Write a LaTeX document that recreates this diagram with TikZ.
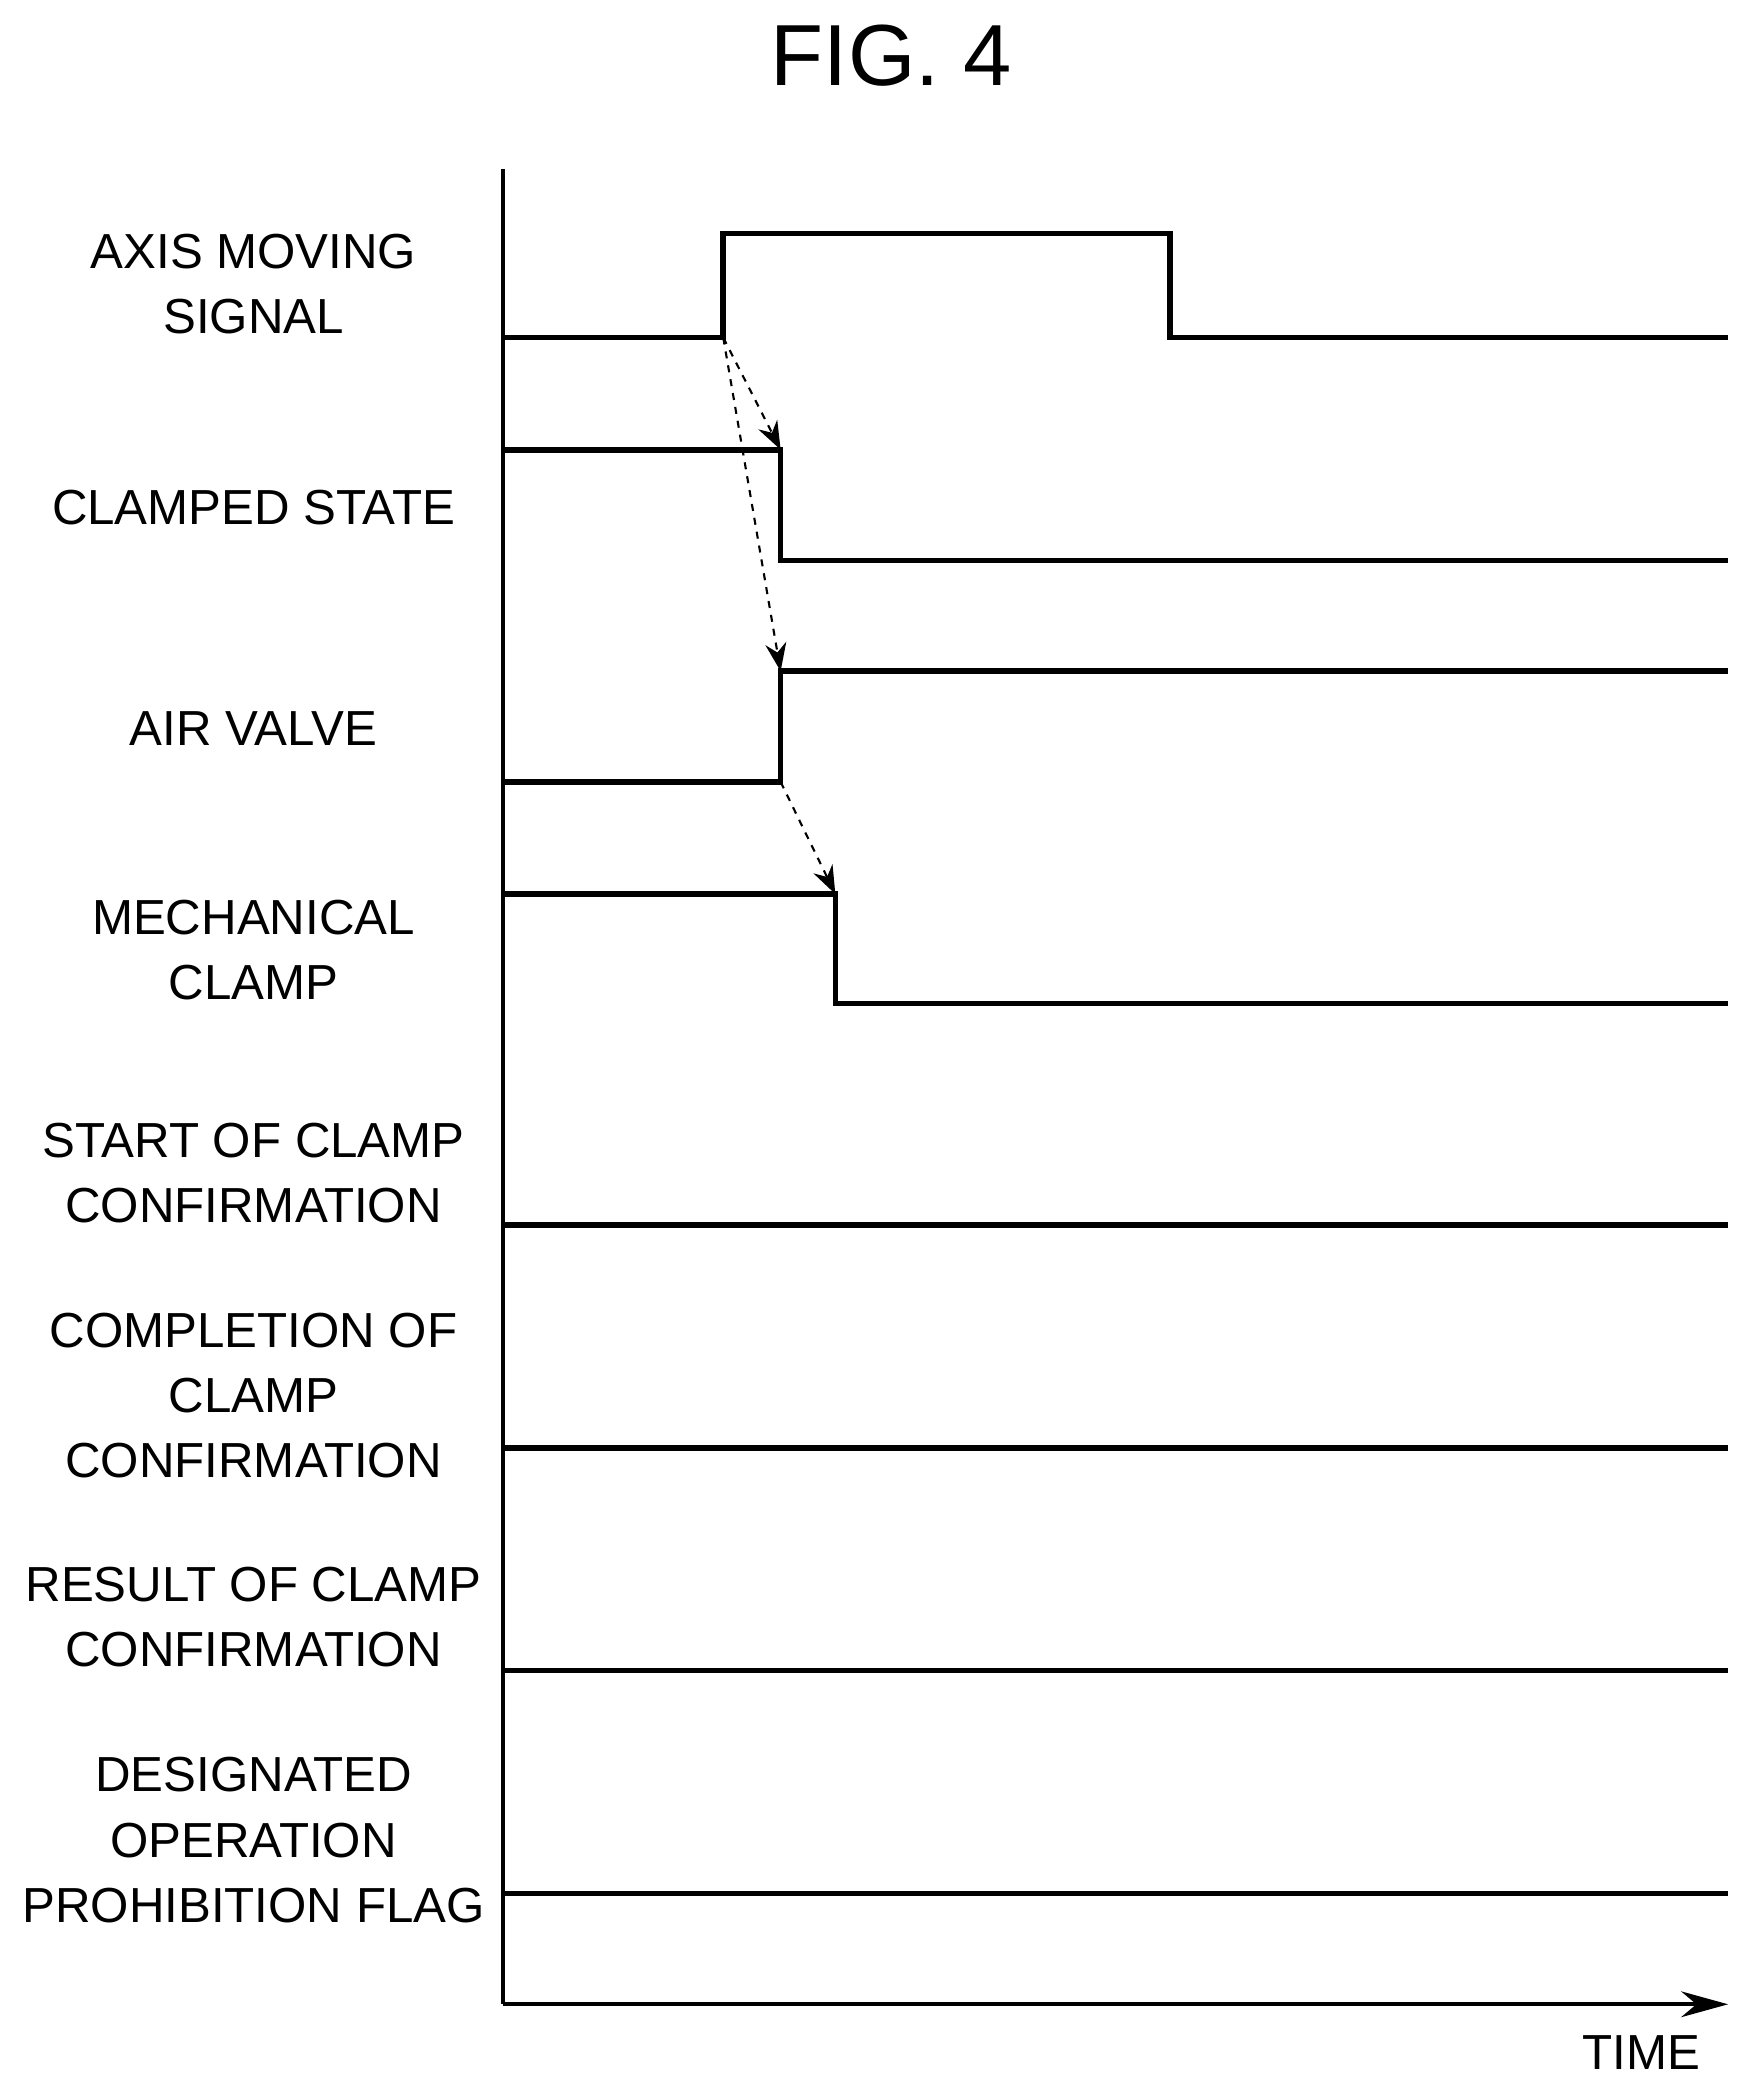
\documentclass[tikz,border=0pt]{standalone}
\usepackage{fontspec}
\setmainfont{Liberation Sans}
\usetikzlibrary{arrows.meta}
\begin{document}
\begin{tikzpicture}[x=0.02cm,y=-0.02cm,
  sig/.style={line width=2.4pt},
  ax/.style={line width=1.6pt},
  dep/.style={dashed,line width=0.9pt,-{Stealth[length=12pt,width=9pt]}},
  lab/.style={align=center,font=\fontsize{21}{27.8}\selectfont,inner sep=0pt}]
\useasboundingbox (0,0) rectangle (1310,1567);
\node[font=\fontsize{37}{40}\selectfont] (title) at (668,42) {FIG. 4};
\coordinate (o) at (377,1502);
\coordinate (top) at (377,127);
\coordinate (xe) at (1295,1502);
\draw[ax] (top) -- (o);
\draw[ax,-{Stealth[length=20pt,width=11pt]}] (o) -- (xe);
\node[font=\fontsize{21}{24}\selectfont] (time) at (1230,1538) {TIME};
% labels
\node[lab] (l1) at (190,213) {AXIS MOVING\\SIGNAL};
\node[lab] (l2) at (190,380) {CLAMPED STATE};
\node[lab] (l3) at (190,546) {AIR VALVE};
\node[lab] (l4) at (190,712) {MECHANICAL\\CLAMP};
\node[lab] (l5) at (190,879) {START OF CLAMP\\CONFIRMATION};
\node[lab] (l6) at (190,1046) {COMPLETION OF\\CLAMP\\CONFIRMATION};
\node[lab] (l7) at (190,1212) {RESULT OF CLAMP\\CONFIRMATION};
\node[lab] (l8) at (190,1379) {DESIGNATED\\OPERATION\\PROHIBITION FLAG};
% signals
\coordinate (a1) at (542,253);
\draw[sig] (377,253) -- (a1) -- (542,175) -- (877,175) -- (877,253) -- (1295,253);
\coordinate (c1) at (585,337);
\draw[sig] (377,337) -- (c1) -- (585,420) -- (1295,420);
\coordinate (v1) at (585,586);
\coordinate (v2) at (585,503);
\draw[sig] (377,586) -- (v1) -- (v2) -- (1295,503);
\coordinate (m1) at (626,670);
\draw[sig] (377,670) -- (m1) -- (626,752) -- (1295,752);
\draw[sig] (377,918) -- (1295,918);
\draw[sig] (377,1085) -- (1295,1085);
\draw[sig] (377,1252) -- (1295,1252);
\draw[sig] (377,1419) -- (1295,1419);
% dependencies
\draw[dep] (a1) -- (c1);
\draw[dep] (a1) -- (v2);
\draw[dep] (v1) -- (m1);
\end{tikzpicture}
\end{document}
